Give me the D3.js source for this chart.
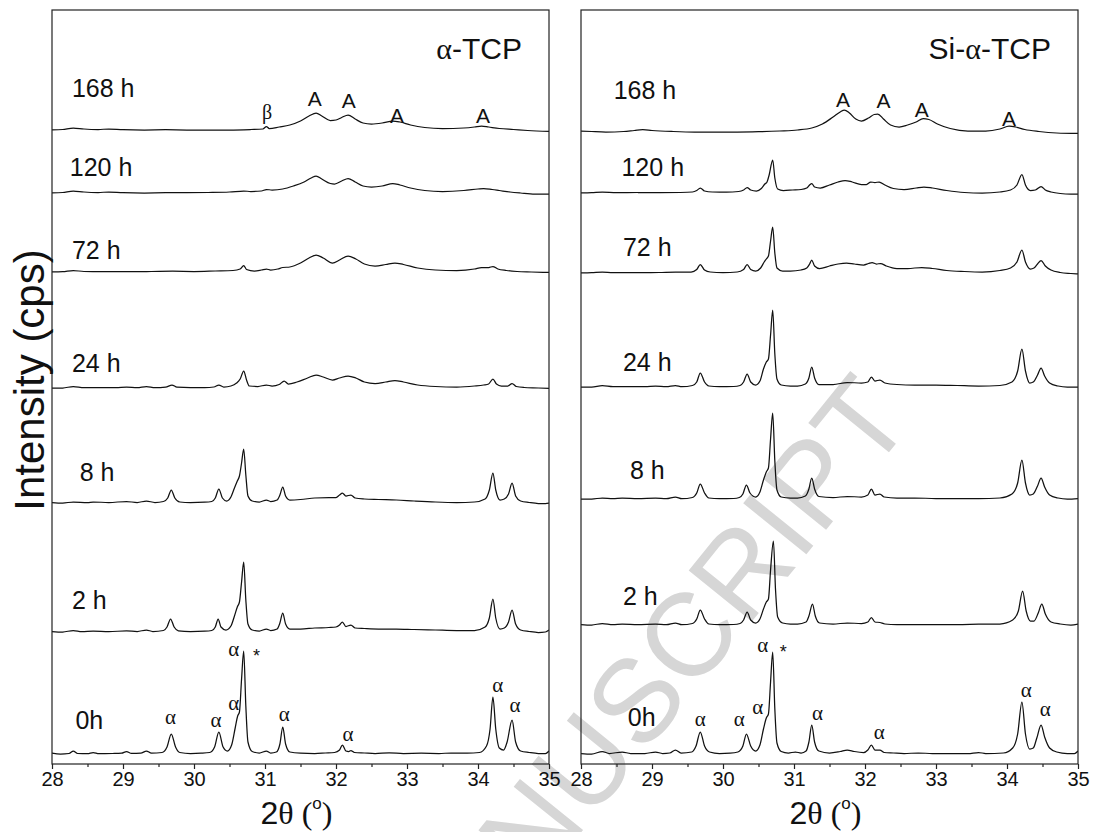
<!DOCTYPE html>
<html>
<head>
<meta charset="utf-8">
<script src="https://cdn.jsdelivr.net/npm/d3@7"></script>
<style>
  html, body { margin: 0; padding: 0; background: #fff; }
  svg { display: block; }
</style>
</head>
<body>
<svg id="chart" width="1095" height="832"></svg>
<script>
// ---- XRD patterns: [2θ (deg), intensity above the pattern's own baseline] ----
const tcp_0h = [[28.00,1],[28.12,0],[28.24,0.5],[28.30,3],[28.36,0.5],[28.50,0.3],[28.58,1.5],[28.66,0.3],[28.85,0.5],[28.98,0.8],[29.05,2.5],[29.12,0.6],[29.25,0.8],[29.33,3],[29.40,0.8],[29.55,1.5],[29.62,7],[29.68,20],[29.74,7],[29.80,1.5],[29.95,0.5],[30.10,0.8],[30.22,1.5],[30.29,7],[30.35,22],[30.41,7],[30.47,3],[30.53,9],[30.58,26],[30.615,38],[30.64,42],[30.67,75],[30.70,103],[30.73,48],[30.76,12],[30.82,2.5],[30.92,1],[31.02,3],[31.08,1],[31.16,2],[31.21,10],[31.25,27],[31.29,10],[31.35,2],[31.50,0.8],[31.70,0.5],[31.85,1],[31.98,1.5],[32.05,4],[32.09,9],[32.14,3],[32.18,2.5],[32.21,3.5],[32.26,1.5],[32.40,1],[32.55,0.5],[32.75,1.2],[32.95,0.5],[33.20,0.8],[33.45,0.5],[33.62,1],[33.85,0.8],[34.02,1.5],[34.12,8],[34.17,25],[34.21,57],[34.25,25],[34.30,6],[34.36,4],[34.41,12],[34.48,34],[34.53,12],[34.60,3],[34.72,1.5],[34.85,0.5],[34.95,0.5],[35.00,3]];
const tcp_2h = [[28.00,0.5],[28.15,0],[28.30,1.5],[28.42,0.3],[28.58,1],[28.80,0.3],[29.05,1.2],[29.20,0.5],[29.33,2],[29.42,0.5],[29.57,1.5],[29.62,5],[29.67,13],[29.72,5],[29.78,1.2],[29.95,0.5],[30.15,0.8],[30.25,1.5],[30.30,5],[30.34,13],[30.38,5],[30.45,2],[30.52,6],[30.57,16],[30.61,25],[30.64,30],[30.67,50],[30.70,70],[30.73,32],[30.76,8],[30.82,2],[30.92,1],[31.02,3],[31.08,1.5],[31.17,3],[31.21,9],[31.25,19],[31.29,8],[31.35,3],[31.50,3],[31.70,4],[31.90,4.5],[32.00,5],[32.05,7],[32.09,10],[32.14,5.5],[32.21,7],[32.27,4],[32.40,3.5],[32.60,3],[32.85,3],[33.10,2.5],[33.40,2],[33.70,1.5],[33.95,1.5],[34.10,5],[34.16,14],[34.21,33],[34.25,14],[34.31,3],[34.37,4],[34.43,10],[34.48,22],[34.53,8],[34.60,2],[34.72,0.5],[34.85,-0.5],[34.95,0],[35.00,2]];
const tcp_8h = [[28.00,0.5],[28.15,0],[28.30,1],[28.50,0.3],[28.58,1],[28.80,0.5],[29.05,1.5],[29.20,0.5],[29.33,2],[29.45,0.5],[29.57,1.5],[29.63,5],[29.68,13],[29.73,5],[29.80,1],[29.95,0.5],[30.15,0.8],[30.25,1.5],[30.30,5],[30.35,14],[30.40,5],[30.46,2],[30.52,6],[30.57,15],[30.61,22],[30.64,27],[30.67,40],[30.70,54],[30.73,28],[30.76,7],[30.82,2],[30.92,1],[31.02,3],[31.08,1.5],[31.17,3],[31.21,8],[31.25,16],[31.29,7],[31.35,3],[31.50,3.5],[31.70,5],[31.90,5.5],[32.00,5.5],[32.05,8],[32.09,10],[32.14,7],[32.21,8],[32.27,5],[32.40,4],[32.60,3.5],[32.85,3],[33.10,2],[33.40,1],[33.70,0.5],[33.95,1],[34.10,4],[34.16,13],[34.21,30],[34.25,13],[34.31,3],[34.37,4],[34.43,9],[34.48,20],[34.53,7],[34.60,2],[34.72,0.5],[34.85,-0.5],[34.95,-0.5],[35.00,0]];
const tcp_24h = [[28.00,0],[28.15,0],[28.30,1.5],[28.45,0.3],[28.70,0.5],[28.90,0.3],[29.05,0.8],[29.20,0.3],[29.33,1.5],[29.45,0.3],[29.60,0.8],[29.69,3],[29.76,0.8],[29.95,0.5],[30.15,0.5],[30.28,1],[30.35,3],[30.42,1],[30.52,2],[30.60,5],[30.65,9],[30.70,17],[30.74,8],[30.78,2],[30.90,1.5],[31.02,3],[31.10,2],[31.20,3.5],[31.27,7],[31.33,4],[31.45,6],[31.60,10],[31.72,13],[31.82,11],[31.95,8],[32.05,10],[32.17,12],[32.28,10],[32.40,6],[32.55,4.5],[32.70,6],[32.83,7.5],[32.95,6],[33.15,3],[33.40,1.5],[33.70,1],[33.95,2],[34.08,3],[34.15,4],[34.21,9],[34.26,4],[34.33,2],[34.42,2],[34.48,4.5],[34.54,1.5],[34.65,0.5],[34.85,0],[35.00,-0.5]];
const tcp_72h = [[28.00,0],[28.15,0.3],[28.30,1.5],[28.45,0.5],[28.70,0.3],[28.90,0.5],[29.10,0.3],[29.40,0.5],[29.70,0.8],[30.00,0.5],[30.30,1],[30.55,1.5],[30.65,3],[30.70,6.5],[30.74,2.5],[30.85,1],[30.95,2],[31.02,3],[31.08,2],[31.18,3],[31.25,4.5],[31.35,5],[31.50,9],[31.62,14],[31.72,17],[31.82,14],[31.95,9],[32.05,12],[32.17,16],[32.28,13],[32.40,8],[32.55,6],[32.70,7.5],[32.83,9],[32.95,7.5],[33.15,4],[33.40,2],[33.70,1.5],[33.95,3],[34.05,4.5],[34.15,4.5],[34.21,5.5],[34.28,3],[34.40,1.5],[34.55,0.5],[34.75,0],[35.00,-0.5]];
const tcp_120h = [[28.00,0],[28.15,0.5],[28.30,2],[28.45,1],[28.65,0.5],[28.80,1],[29.00,0.3],[29.30,0],[29.60,0.3],[29.90,0.3],[30.20,0.5],[30.50,1],[30.70,2],[30.80,1.5],[30.95,2],[31.02,3.5],[31.10,3],[31.25,4],[31.40,7],[31.55,11],[31.65,15],[31.72,17],[31.80,14],[31.92,9.5],[31.98,9],[32.08,12],[32.17,14.5],[32.27,11],[32.38,7],[32.50,6],[32.65,7],[32.80,9.5],[32.90,8],[33.05,5],[33.25,2.5],[33.50,1.5],[33.80,2.5],[34.00,4],[34.08,4.5],[34.20,3.5],[34.30,2.5],[34.45,1],[34.60,0],[34.80,-1],[35.00,-1]];
const tcp_168h = [[28.00,0],[28.15,0.5],[28.30,2],[28.45,1],[28.65,0.5],[28.80,1],[29.00,0.3],[29.30,0],[29.60,0.3],[29.90,0],[30.20,0],[30.50,0],[30.80,0.5],[30.97,1],[31.02,3.5],[31.06,1.5],[31.20,3],[31.35,5],[31.50,9],[31.62,14],[31.72,17],[31.80,14],[31.92,9.5],[32.00,10],[32.08,12.5],[32.17,15],[32.27,11],[32.38,7],[32.50,6],[32.65,7],[32.80,9],[32.90,8],[33.05,5],[33.25,2.5],[33.50,1.5],[33.80,2],[33.95,3],[34.05,4],[34.15,3],[34.30,1.5],[34.50,0.5],[34.70,-0.5],[35.00,-1.5]];

const si_0h = [[28.00,0.5],[28.15,0],[28.30,2.5],[28.40,0.5],[28.58,2],[28.70,0.5],[28.90,0.5],[29.05,2],[29.15,0.5],[29.25,1],[29.33,4],[29.41,1],[29.56,2],[29.62,8],[29.68,22],[29.74,8],[29.81,2],[29.95,0.5],[30.10,0.8],[30.21,2],[30.28,8],[30.33,20],[30.39,8],[30.46,3],[30.52,9],[30.57,25],[30.61,36],[30.64,40],[30.67,72],[30.70,102],[30.73,45],[30.76,11],[30.82,2.5],[30.92,1],[31.02,2],[31.10,1],[31.17,3],[31.21,12],[31.25,29],[31.29,12],[31.35,3],[31.50,1],[31.65,2.5],[31.75,4],[31.85,2.5],[31.98,1.5],[32.04,4],[32.09,9],[32.14,4],[32.21,4],[32.27,1.5],[32.40,1],[32.55,0.5],[32.75,1],[32.95,0.5],[33.20,0.5],[33.45,0.3],[33.60,1.5],[33.70,0.5],[33.95,1],[34.08,6],[34.15,20],[34.21,52],[34.26,20],[34.32,5],[34.37,6],[34.42,16],[34.48,29],[34.53,17],[34.60,6],[34.70,2],[34.85,0.5],[34.95,0.5],[35.00,3]];
const si_2h = [[28.00,0.5],[28.15,0],[28.30,1.5],[28.45,0.3],[28.58,1],[28.80,0.3],[29.05,1],[29.20,0.3],[29.33,2],[29.42,0.3],[29.57,1.5],[29.63,6],[29.68,15],[29.74,6],[29.80,1],[29.95,0.3],[30.15,0.5],[30.24,1.5],[30.29,5],[30.34,13],[30.39,5],[30.46,2],[30.52,6],[30.57,16],[30.61,23],[30.64,26],[30.67,55],[30.71,84],[30.74,35],[30.77,8],[30.84,2],[30.95,1],[31.05,1],[31.17,3],[31.21,9],[31.26,21],[31.30,9],[31.36,2],[31.55,1],[31.75,2],[31.95,1.5],[32.04,3],[32.09,7.5],[32.14,3],[32.21,2.5],[32.28,1],[32.45,0.5],[32.70,0.5],[33.00,0.5],[33.30,0.3],[33.60,0.8],[33.90,1],[34.08,5],[34.16,14],[34.22,34],[34.27,14],[34.33,4],[34.38,4],[34.44,12],[34.49,21],[34.54,11],[34.62,3],[34.75,1],[34.90,0],[35.00,1]];
const si_8h = [[28.00,0],[28.15,0],[28.30,1],[28.45,0.3],[28.58,1],[28.80,0.3],[29.05,1],[29.20,0.3],[29.33,2],[29.42,0.3],[29.57,1.5],[29.63,6],[29.68,15],[29.74,6],[29.80,1],[29.95,0.3],[30.15,0.5],[30.23,1.5],[30.28,5],[30.33,14],[30.38,6],[30.46,2],[30.52,7],[30.57,19],[30.61,27],[30.64,31],[30.67,60],[30.70,86],[30.73,38],[30.76,9],[30.82,2],[30.95,1],[31.05,1],[31.16,3],[31.21,10],[31.25,21],[31.29,10],[31.35,2.5],[31.55,1.5],[31.75,2.5],[31.95,2],[32.04,4],[32.09,10],[32.14,4],[32.21,5],[32.27,2],[32.45,1],[32.70,1],[33.00,0.5],[33.30,0.5],[33.60,0.5],[33.90,1],[34.07,5],[34.15,16],[34.21,39],[34.26,16],[34.32,4],[34.37,5],[34.43,13],[34.48,21],[34.53,12],[34.60,4],[34.72,1],[34.85,0],[35.00,0.5]];
const si_24h = [[28.00,0],[28.15,0],[28.30,1.3],[28.45,0.3],[28.70,0.3],[28.90,0.3],[29.05,1],[29.20,0.3],[29.33,1.5],[29.42,0.3],[29.57,1.5],[29.63,5],[29.68,14],[29.74,5],[29.80,1],[29.95,0.3],[30.15,0.5],[30.24,1.5],[30.29,5],[30.34,13],[30.39,5],[30.46,2],[30.52,6],[30.57,18],[30.61,25],[30.64,28],[30.67,52],[30.70,77],[30.73,33],[30.76,8],[30.82,2],[30.95,1],[31.05,1],[31.16,3],[31.21,9],[31.25,20],[31.29,9],[31.35,2.5],[31.55,2.5],[31.75,4.5],[31.95,4],[32.04,5],[32.09,10],[32.14,6],[32.21,7],[32.28,4],[32.45,2.5],[32.70,2],[33.00,2],[33.30,1.5],[33.60,1],[33.90,1.5],[34.07,5],[34.15,16],[34.21,38],[34.26,16],[34.32,4],[34.37,5],[34.43,12],[34.48,19],[34.53,11],[34.60,4],[34.72,1],[34.85,0],[35.00,0]];
const si_72h = [[28.00,0],[28.15,0.3],[28.30,1],[28.45,0.3],[28.70,0.5],[28.90,0.3],[29.10,0.5],[29.33,1],[29.55,1],[29.63,3.5],[29.68,8.5],[29.74,3],[29.82,1],[30.00,0.5],[30.20,1],[30.29,3.5],[30.34,8.5],[30.39,3.5],[30.46,2],[30.53,5],[30.58,11],[30.61,14],[30.64,17],[30.67,32],[30.70,46],[30.73,20],[30.76,5],[30.84,2],[30.95,2],[31.10,3],[31.18,5],[31.22,9],[31.25,13],[31.29,7],[31.36,4.5],[31.50,7],[31.62,9],[31.74,10],[31.85,9],[31.98,8],[32.05,9.5],[32.10,10.5],[32.16,9],[32.22,9.5],[32.30,7],[32.45,4.5],[32.60,4.5],[32.80,5.5],[32.95,4.5],[33.15,2.5],[33.40,1.5],[33.65,1],[33.90,2.5],[34.05,5],[34.14,11],[34.21,23],[34.26,11],[34.33,4],[34.38,5],[34.43,9],[34.48,12.5],[34.54,7],[34.62,3],[34.75,0.5],[34.90,-0.5],[35.00,-1]];
const si_120h = [[28.00,0],[28.15,0.3],[28.30,1],[28.50,0.3],[28.80,0.5],[29.10,0.3],[29.40,0.5],[29.57,1],[29.63,2.5],[29.68,5],[29.74,2],[29.85,1],[30.05,0.8],[30.22,1.5],[30.29,3],[30.34,5.5],[30.39,3],[30.47,2],[30.54,4.5],[30.59,9],[30.62,11],[30.65,18],[30.70,33],[30.73,15],[30.77,4],[30.85,2.5],[30.98,3],[31.10,3.5],[31.18,5],[31.22,8],[31.25,9.5],[31.29,6],[31.37,5],[31.50,8],[31.62,11],[31.72,12.5],[31.82,11],[31.95,8.5],[32.02,8.5],[32.08,11],[32.14,10.5],[32.20,11],[32.28,8],[32.40,4.5],[32.55,3.5],[32.72,5],[32.83,6],[32.95,5],[33.15,2.5],[33.40,0.5],[33.65,0],[33.90,1],[34.05,3],[34.14,8],[34.21,18.5],[34.26,8],[34.33,2.5],[34.40,3],[34.48,6.5],[34.54,3],[34.62,1],[34.75,-0.5],[34.90,-1],[35.00,-1]];
const si_168h = [[28.00,1],[28.15,0.5],[28.35,0],[28.60,0.5],[28.75,1.5],[28.87,2.3],[29.00,1.5],[29.30,0.5],[29.60,0],[29.90,0],[30.20,0],[30.50,0.3],[30.80,1],[31.05,2],[31.25,4],[31.40,8],[31.55,15],[31.65,20],[31.71,22],[31.78,19],[31.87,13],[31.95,11],[32.05,14],[32.13,17.5],[32.18,18],[32.26,13],[32.36,7],[32.48,5],[32.60,7],[32.72,10],[32.82,13.5],[32.90,12.5],[33.02,8],[33.20,3.5],[33.45,1],[33.70,1],[33.90,3],[34.03,5.8],[34.12,5],[34.25,2.5],[34.45,0.5],[34.70,-1],[35.00,-1.5]];

// hydration times and the intensity offset each pattern is stacked at
const timeLabels = ["0h", "2 h", "8 h", "24 h", "72 h", "120 h", "168 h"];
const tcpOffsets = [10, 132, 261, 376, 492, 571, 634];
const siOffsets  = [10, 139, 265, 377, 491, 571, 632];

// phase marks: [2θ, intensity above baseline of the pattern they belong to]
const alphaMarksTcp = [[29.67,35],[30.31,32],[30.56,49],[30.56,103],[31.27,38],[32.17,18],[34.28,67],[34.52,47]];
const alphaMarksSi  = [[29.68,33],[30.23,33],[30.49,45],[30.56,107],[31.33,39],[32.20,20],[34.27,62],[34.54,43]];
const starTcp = [30.88, 101];
const starSi  = [30.85, 105];
const apatiteTcp = [[31.70,32],[32.18,30],[32.86,15],[34.07,15]];
const apatiteSi  = [[31.69,33],[32.26,32],[32.80,23],[34.03,14]];
const betaTcp = [31.03, 18];

const xTicks = [28, 29, 30, 31, 32, 33, 34, 35];
const xMinorTicks = [28.5, 29.5, 30.5, 31.5, 32.5, 33.5, 34.5];

// ---- layout ----
const svg = d3.select("#chart");
const SANS = "'Liberation Sans', Arial, sans-serif";
const SERIF = "'Liberation Serif', 'Times New Roman', serif";
const plotTop = 10, plotBottom = 764;
const y = d3.scaleLinear().domain([0, 754]).range([plotBottom, plotTop]);

// watermark behind everything
svg.append("text")
  .attr("transform", "translate(915,420) rotate(-51)")
  .attr("text-anchor", "end")
  .attr("font-family", SANS)
  .attr("font-size", 118)
  .attr("fill", "#d6d6d6")
  .text("ACCEPTED MANUSCRIPT");

const panels = [
  { id: "tcp", pre: "", range: [52, 549], series: [tcp_0h, tcp_2h, tcp_8h, tcp_24h, tcp_72h, tcp_120h, tcp_168h],
    offsets: tcpOffsets, labelX: [28.33, 28.28, 28.39, 28.28, 28.28, 28.25, 28.28], labelLift: [34, 32, 31, 25, 22, 26, 42],
    alpha: alphaMarksTcp, star: starTcp, apatite: apatiteTcp, beta: betaTcp },
  { id: "si", pre: "Si-", range: [581, 1078], series: [si_0h, si_2h, si_8h, si_24h, si_72h, si_120h, si_168h],
    offsets: siOffsets, labelX: [28.66, 28.59, 28.69, 28.59, 28.59, 28.57, 28.46], labelLift: [37, 29, 29, 25, 26, 26, 42],
    alpha: alphaMarksSi, star: starSi, apatite: apatiteSi, beta: null }
];

panels.forEach(p => {
  const x = d3.scaleLinear().domain([28, 35]).range(p.range);
  const g = svg.append("g");

  g.append("clipPath").attr("id", "clip-" + p.id)
    .append("rect").attr("x", p.range[0]).attr("y", plotTop)
    .attr("width", p.range[1] - p.range[0]).attr("height", plotBottom - plotTop);

  // patterns
  const plot = g.append("g").attr("clip-path", `url(#clip-${p.id})`);
  p.series.forEach((s, i) => {
    const off = p.offsets[i];
    const line = d3.line()
      .x(d => x(d[0]))
      .y(d => y(off + d[1]))
      .curve(d3.curveMonotoneX);
    plot.append("path").datum(s)
      .attr("d", line)
      .attr("fill", "none")
      .attr("stroke", "#111")
      .attr("stroke-width", 1.25)
      .attr("stroke-linejoin", "round");
  });

  // frame
  g.append("rect")
    .attr("x", p.range[0]).attr("y", plotTop)
    .attr("width", p.range[1] - p.range[0]).attr("height", plotBottom - plotTop)
    .attr("fill", "none").attr("stroke", "#222").attr("stroke-width", 1.2);

  // x axis with major and minor ticks
  const ax = g.append("g").attr("transform", `translate(0,${plotBottom})`)
    .call(d3.axisBottom(x).tickValues(xTicks).tickFormat(d3.format("d")).tickSize(5).tickPadding(3));
  ax.select(".domain").remove();
  ax.selectAll("line").attr("stroke", "#222").attr("stroke-width", 1.2);
  ax.selectAll("text").attr("font-family", SANS).attr("font-size", 20).attr("fill", "#111");
  const axm = g.append("g").attr("transform", `translate(0,${plotBottom})`)
    .call(d3.axisBottom(x).tickValues(xMinorTicks).tickFormat("").tickSize(3));
  axm.select(".domain").remove();
  axm.selectAll("line").attr("stroke", "#222").attr("stroke-width", 1.2);

  // x title: 2θ (°)
  const xt = g.append("text")
    .attr("x", (p.range[0] + p.range[1]) / 2 - 4).attr("y", 824)
    .attr("text-anchor", "middle").attr("font-size", 32).attr("fill", "#111");
  xt.append("tspan").attr("font-family", SANS).text("2");
  xt.append("tspan").attr("font-family", SERIF).text("θ (");
  xt.append("tspan").attr("font-family", SANS).attr("font-size", 17).attr("dy", -15).text("o");
  xt.append("tspan").attr("font-family", SERIF).attr("dy", 15).text(")");

  // panel title
  const tt = g.append("text")
    .attr("x", p.range[1] - 27).attr("y", 59)
    .attr("text-anchor", "end").attr("font-size", 30).attr("fill", "#111").attr("font-family", SANS);
  if (p.pre) tt.append("tspan").text(p.pre);
  tt.append("tspan").attr("font-family", SERIF).text("α");
  tt.append("tspan").text("-TCP");

  // time labels
  timeLabels.forEach((t, i) => {
    g.append("text")
      .attr("x", x(p.labelX[i]))
      .attr("y", y(p.offsets[i] + p.labelLift[i]) + 9)
      .attr("font-family", SANS).attr("font-size", 25).attr("fill", "#111")
      .text(t);
  });

  // α marks on the 0 h pattern
  p.alpha.forEach(d => {
    g.append("text")
      .attr("x", x(d[0])).attr("y", y(p.offsets[0] + d[1]) + 5)
      .attr("text-anchor", "middle")
      .attr("font-family", SERIF).attr("font-size", 21).attr("fill", "#111")
      .text("α");
  });
  g.append("text")
    .attr("x", x(p.star[0])).attr("y", y(p.offsets[0] + p.star[1]) + 9)
    .attr("text-anchor", "middle")
    .attr("font-family", SANS).attr("font-size", 18).attr("fill", "#111")
    .text("*");

  // apatite (A) and β marks on the 168 h pattern
  p.apatite.forEach(d => {
    g.append("text")
      .attr("x", x(d[0])).attr("y", y(p.offsets[6] + d[1]) + 7.5)
      .attr("text-anchor", "middle")
      .attr("font-family", SANS).attr("font-size", 21).attr("fill", "#111")
      .text("A");
  });
  if (p.beta) {
    g.append("text")
      .attr("x", x(p.beta[0])).attr("y", y(p.offsets[6] + p.beta[1]) + 7)
      .attr("text-anchor", "middle")
      .attr("font-family", SERIF).attr("font-size", 20).attr("fill", "#111")
      .text("β");
  }
});

// shared y title
svg.append("text")
  .attr("transform", "translate(44,380) rotate(-90)")
  .attr("text-anchor", "middle")
  .attr("font-family", SANS).attr("font-size", 42).attr("fill", "#111")
  .text("Intensity (cps)");
</script>
</body>
</html>
